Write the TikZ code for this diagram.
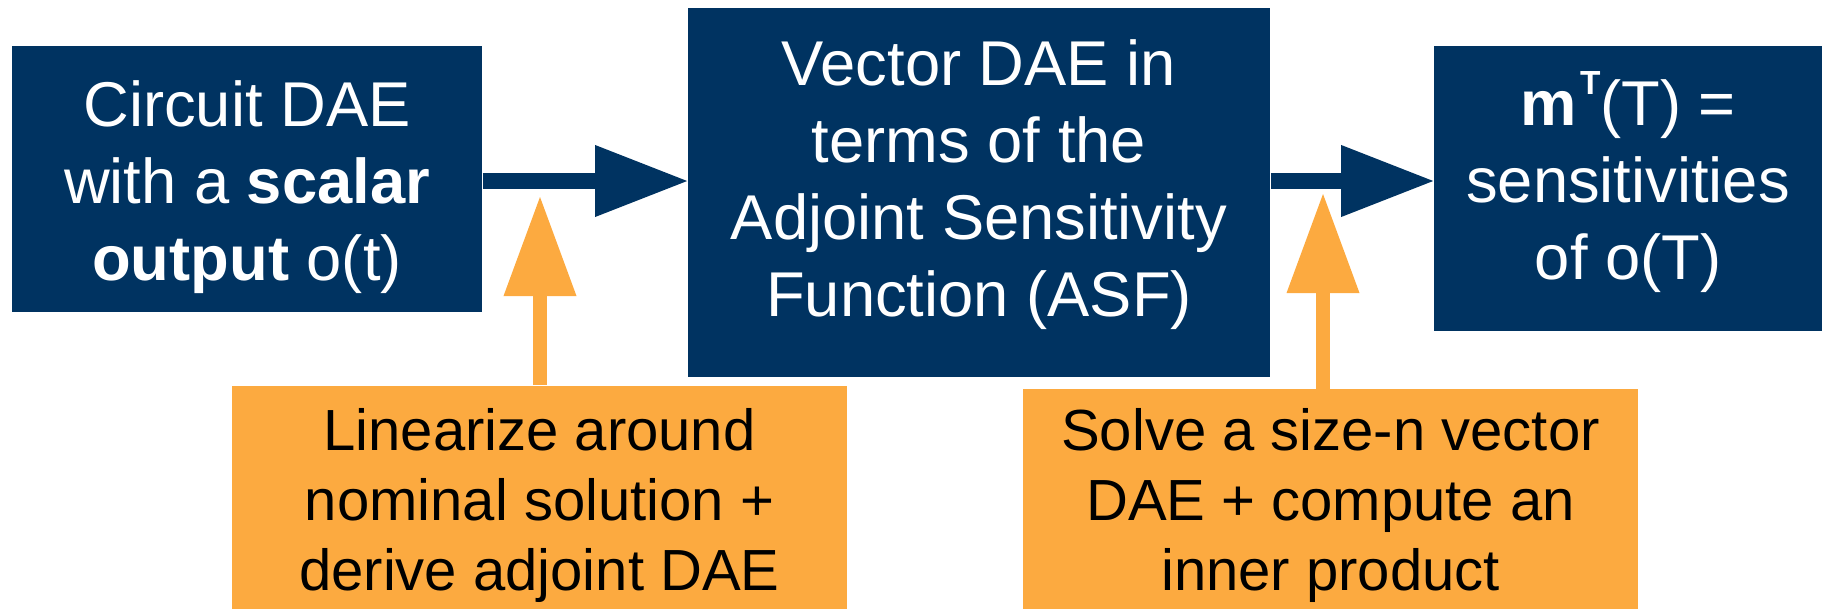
\documentclass[tikz,border=0pt]{standalone}
\usepackage{fontspec}
\setmainfont{Liberation Sans}
\usetikzlibrary{arrows.meta}
\definecolor{daeblue}{RGB}{0,51,97}
\definecolor{notegold}{RGB}{252,170,64}
\newcommand\blockfont{\fontsize{18pt}{21.9pt}\selectfont}
\newcommand\notefont{\fontsize{16.5pt}{19.9pt}\selectfont}
\newcommand\supfont{\fontsize{9.5pt}{11pt}\selectfont\bfseries}
\newcommand\hstrut[1]{\rule{0pt}{#1}}
\newcommand\dstrut[1]{\rule[-#1]{0pt}{#1}}
\begin{document}
\begin{tikzpicture}[x=0.01cm,y=-0.01cm,
  bluebox/.style={fill=daeblue, text=white, font=\blockfont, align=center, inner sep=0pt},
  notebox/.style={fill=notegold, text=black, font=\notefont, align=center, inner sep=0pt},
  bluearrow/.style={daeblue, line width=0.15cm, -{Triangle[length=0.92cm,width=0.72cm,line width=0pt]}},
  notearrow/.style={notegold, line width=0.14cm, -{Triangle[length=0.99cm,width=0.73cm,line width=0pt]}}]
\useasboundingbox (0,0) rectangle (1822,609);
% blocks
\node[bluebox, minimum width=4.70cm, minimum height=2.655cm] (circuit) at (247,178.75)
  {\hstrut{17.8pt}Circuit DAE\\with a \textbf{scalar}\\\textbf{output} o(t)\dstrut{4pt}};
\node[bluebox, minimum width=5.82cm, minimum height=3.69cm] (vecdae) at (979,192.5)
  {\hstrut{13.4pt}Vector DAE in\\terms of the\\Adjoint Sensitivity\\Function (ASF)\dstrut{8.4pt}};
\node[bluebox, minimum width=3.88cm, minimum height=2.845cm] (sens) at (1628,188.25)
  {\hstrut{15.6pt}\textbf{m}\hspace{1pt}\raisebox{8.8pt}{\supfont T}(T) =\\sensitivities\\of o(T)\dstrut{7.55pt}};
% notes
\node[notebox, minimum width=6.15cm, minimum height=2.23cm] (lin) at (539.5,497.5)
  {\hstrut{16.5pt}Linearize around\\nominal solution +\\derive adjoint DAE\dstrut{3.56pt}};
\node[notebox, minimum width=6.15cm, minimum height=2.195cm] (solve) at (1330.5,499.25)
  {\hstrut{15.5pt}Solve a size-n vector\\DAE + compute an\\inner product\dstrut{3.56pt}};
% arrows
\coordinate (mid) at (0,181);
\coordinate (tipA) at (540,197);
\coordinate (tipB) at (1323,194);
\draw[bluearrow] (circuit.east |- mid) -- (vecdae.west |- mid);
\draw[bluearrow] (vecdae.east |- mid) -- (sens.west |- mid);
\draw[notearrow] (lin.north -| tipA) -- (tipA);
\draw[notearrow] (solve.north -| tipB) -- (tipB);
\end{tikzpicture}
\end{document}
